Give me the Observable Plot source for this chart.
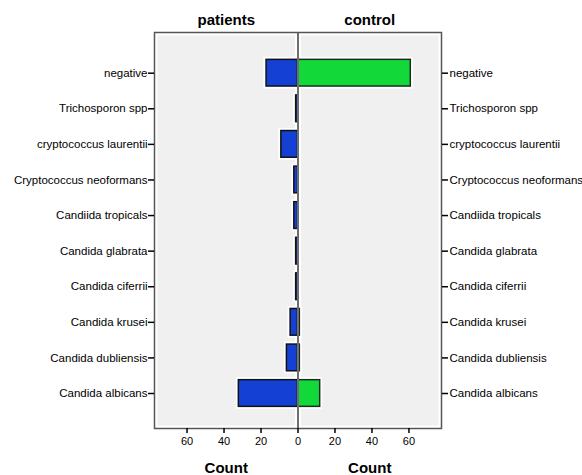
<!DOCTYPE html>
<html>
<head>
<meta charset="utf-8">
<script src="https://cdn.jsdelivr.net/npm/d3@7"></script>
<script src="https://cdn.jsdelivr.net/npm/@observablehq/plot@0.6"></script>
<style>
  html, body { margin: 0; padding: 0; background: #fff; }
  #chart svg { display: block; }
</style>
</head>
<body>
<div id="chart"></div>
<script>
const categories = ["negative", "Trichosporon spp", "cryptococcus laurentii", "Cryptococcus neoformans",
  "Candiida tropicals", "Candida glabrata", "Candida ciferrii", "Candida krusei",
  "Candida dubliensis", "Candida albicans"];
const patients = [17, 1, 9, 2, 2, 1, 1, 4, 6, 32];
const control = [61, 0, 0, 0, 0, 0, 0, 1, 1, 12];
const panelTitles = ["patients", "control"];
const axisTitle = "Count";
const xTicks = [-60, -40, -20, 0, 20, 40, 60];
const xMax = 77.6;

const data = categories.map((c, i) => ({cat: c, patients: patients[i], control: control[i]}));
const panels = panelTitles.map((t, i) => ({label: t, x: (i === 0 ? -1 : 1) * xMax / 2}));

const font = "Liberation Sans, Arial, sans-serif";
const blue = "#1441d4";
const green = "#12d83a";

const chart = Plot.plot({
  width: 582,
  height: 475,
  marginLeft: 154,
  marginRight: 141,
  marginTop: 32,
  marginBottom: 47,
  style: {fontFamily: font, fontSize: "11.5px", color: "#000", background: "#fff"},
  x: {domain: [-xMax, xMax], ticks: xTicks, tickFormat: d => Math.abs(d), label: null},
  y: {domain: categories, paddingInner: 0.25, paddingOuter: 0.67, round: false, range: [35.5, 430.2], label: null},
  marks: [
    Plot.frame({fill: "#f0f0f0", inset: 3}),
    Plot.ruleX([0], {stroke: "#fff", strokeWidth: 6}),
    // white halo
    Plot.barX(data, {x1: 0, x2: d => -d.patients, y: "cat", fill: "#fff", stroke: "#fff", strokeWidth: 5, filter: d => d.patients > 0}),
    Plot.barX(data, {x1: 0, x2: "control", y: "cat", fill: "#fff", stroke: "#fff", strokeWidth: 5, filter: d => d.control > 0}),
    Plot.barX(data, {x1: 0, x2: d => -d.patients, y: "cat", fill: blue, stroke: "#111", strokeWidth: 1.5, filter: d => d.patients > 0}),
    Plot.barX(data, {x1: 0, x2: "control", y: "cat", fill: green, stroke: "#1e2a1e", strokeWidth: 1.5, filter: d => d.control > 0}),
    Plot.ruleX([0], {stroke: "#6e6e6e", strokeWidth: 2}),
    Plot.frame({stroke: "#555", strokeWidth: 1.5}),
    Plot.axisY({anchor: "left", tickSize: 6, tickPadding: 1, fontSize: 11.5, stroke: "#000", strokeWidth: 1.5}),
    Plot.axisY({anchor: "right", tickSize: 6, tickPadding: 2, fontSize: 11.5, stroke: "#000", strokeWidth: 1.5}),
    Plot.axisX({anchor: "bottom", ticks: xTicks, tickFormat: d => Math.abs(d), tickSize: 5, tickPadding: 4, fontSize: 11, stroke: "#000", strokeWidth: 1.5}),
    Plot.text(panels, {x: "x", text: "label", frameAnchor: "top", lineAnchor: "middle", dy: -12, fontSize: 15, fontWeight: "bold", fill: "#000"}),
    Plot.text(panels, {x: "x", text: () => axisTitle, frameAnchor: "bottom", lineAnchor: "middle", dy: 40, fontSize: 15, fontWeight: "bold", fill: "#000"})
  ]
});
document.getElementById("chart").appendChild(chart);
</script>
</body>
</html>
